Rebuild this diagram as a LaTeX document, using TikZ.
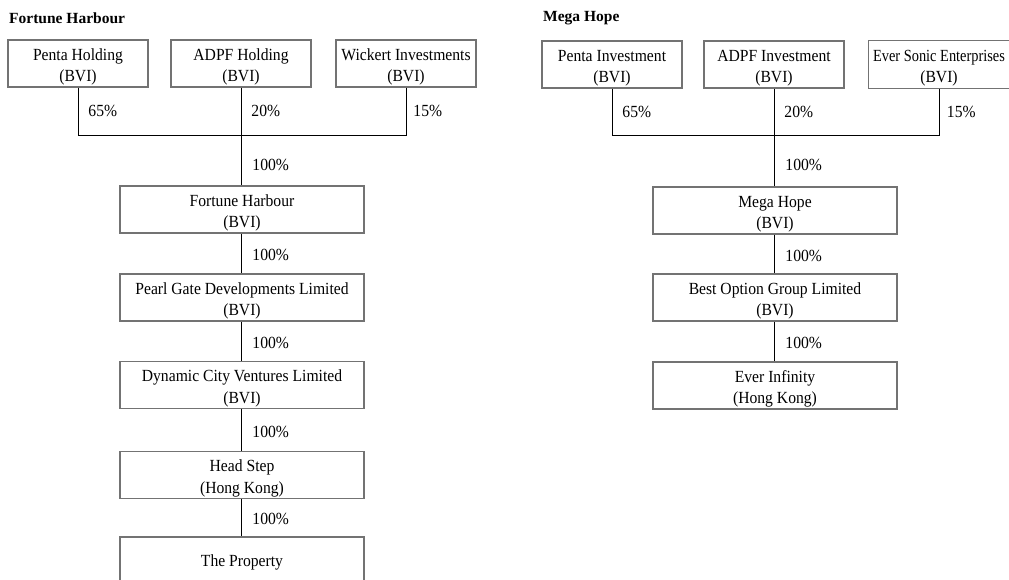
\documentclass[tikz,border=0pt]{standalone}
\usepackage{fontspec}
\setmainfont{Liberation Serif}
\newfontfamily\bxfont[FakeStretch=0.92]{Liberation Serif}
\usetikzlibrary{calc}
\newcommand{\up}{\rule{0pt}{19pt}}
\begin{document}
\begin{tikzpicture}[x=1pt,y=-1pt,
  boxline/.style={draw=black!55,line width=1.2pt},
  box/.style={boxline,rectangle,inner sep=0pt,align=center,
    minimum height=47pt,font=\bxfont\fontsize{17}{21.5}\selectfont},
  topbox/.style={box,minimum width=140pt},
  midbox/.style={box,minimum width=244pt},
  title/.style={anchor=west,inner sep=0pt,font=\fontsize{15.5}{19}\selectfont\bfseries},
  pct/.style={anchor=west,inner sep=0pt,font=\bxfont\fontsize{17}{20}\selectfont},
  conn/.style={draw=black,line width=0.9pt}]
\clip (0,0) rectangle (1009,579);
\fill[white] (0,0) rectangle (1009,579);
% ---------- left ----------
\node[title] (tl) at (9,18) {Fortune Harbour};
\node[topbox] (pa) at (78,63.5) {\up Penta Holding\\(BVI)};
\node[topbox] (pb) at (241,63.5) {\up ADPF Holding\\(BVI)};
\node[topbox] (pc) at (406,63.5) {\up Wickert Investments\\(BVI)};
\coordinate (jl) at (241,135);
\node[midbox] (fh) at (242,209.5) {\up Fortune Harbour\\(BVI)};
\node[midbox] (pg) at (242,297.5) {\up Pearl Gate Developments Limited\\(BVI)};
\node[midbox] (dc) at (242,385) {\up Dynamic City Ventures Limited\\(BVI)};
\node[midbox] (hs) at (242,475) {\up Head Step\\(Hong Kong)};
\node[box,minimum width=244pt,minimum height=50pt] (tp) at (242,562) {The Property};
\draw[conn] (pa.south) -- node[pct,right=10pt]{65\%} (pa.south |- jl) -- (jl);
\draw[conn] (pc.south) -- node[pct,right=7pt]{15\%} (pc.south |- jl) -- (jl);
\draw[conn] (pb.south) -- node[pct,right=10pt]{20\%} (jl);
\draw[conn] (jl) -- node[pct,right=11pt,pos=0.59]{100\%} (jl |- fh.north);
\draw[conn] (fh.south -| jl) -- node[pct,right=11pt,pos=0.54]{100\%} (pg.north -| jl);
\draw[conn] (pg.south -| jl) -- node[pct,right=11pt,pos=0.54]{100\%} (dc.north -| jl);
\draw[conn] (dc.south -| jl) -- node[pct,right=11pt,pos=0.54]{100\%} (hs.north -| jl);
\draw[conn] (hs.south -| jl) -- node[pct,right=11pt,pos=0.54]{100\%} (tp.north -| jl);
% ---------- right ----------
\node[title] (tr) at (543,18) {Mega Hope};
\node[topbox] (qa) at (612,64.5) {\up Penta Investment\\(BVI)};
\node[topbox] (qb) at (774,64.5) {\up ADPF Investment\\(BVI)};
\node[topbox,draw=none] (qc) at (939,64.5) {\up\scalebox{0.92}[1]{Ever Sonic Enterprises}\\(BVI)};
\draw[boxline] (qc.north west) rectangle ($(qc.south east)+(12,0)$);
\coordinate (jr) at (774,135);
\node[midbox] (mh) at (775,210.5) {\up Mega Hope\\(BVI)};
\node[midbox] (bo) at (775,297.5) {\up Best Option Group Limited\\(BVI)};
\node[midbox] (ei) at (775,385.5) {\up Ever Infinity\\(Hong Kong)};
\draw[conn] (qa.south) -- node[pct,right=10pt]{65\%} (qa.south |- jr) -- (jr);
\draw[conn] (qc.south) -- node[pct,right=7.5pt]{15\%} (qc.south |- jr) -- (jr);
\draw[conn] (qb.south) -- node[pct,right=10pt]{20\%} (jr);
\draw[conn] (jr) -- node[pct,right=11pt,pos=0.59]{100\%} (jr |- mh.north);
\draw[conn] (mh.south -| jr) -- node[pct,right=11pt,pos=0.54]{100\%} (bo.north -| jr);
\draw[conn] (bo.south -| jr) -- node[pct,right=11pt,pos=0.54]{100\%} (ei.north -| jr);
\end{tikzpicture}
\end{document}
